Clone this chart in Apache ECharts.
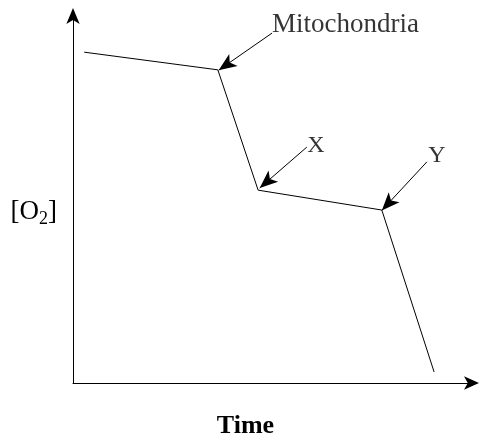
<!DOCTYPE html>
<html>
<head>
	<meta charset="utf-8">
	<title></title>
    <script src="https://cdn.jsdelivr.net/npm/echarts@6/dist/echarts.min.js"></script>
    <style>body{margin:0}</style>
</head>
<body>
    <div id="main" style="width: 481px;height:438px;"></div>
	<script type="text/javascript">
        // O2 trace (time, [O2]) in arbitrary units 0-100
        const traceTime = [2.8, 36.3, 46.4, 77.4, 90.5];
        const traceO2 = [89.9, 85.1, 52.4, 47.0, 3.0];

        // annotations: label text, label position, arrow start and arrow tip
        const notes = ['Mitochondria', 'X', 'Y'];
        const noteX = [49.9, 60.9, 91.2];
        const noteY = [97.2, 64.4, 61.7];
        const arrowFrom = [[49.9, 95.1], [58.6, 64.1], [88.7, 60.1]];
        const arrowTo = [[36.5, 85.0], [46.8, 53.0], [77.4, 46.9]];

        const serif = "'Liberation Serif', 'Times New Roman', serif";
        const myChart = echarts.init(document.getElementById('main'));

		const options = {
            animation: false,
            grid: { left: 73, right: 9, top: 15, bottom: 55, outerBoundsMode: 'none' },
            xAxis: {
                type: 'value', min: 0, max: 100,
                name: 'Time', nameLocation: 'middle', nameGap: 30,
                nameTextStyle: { fontFamily: serif, fontSize: 26, fontWeight: 'bold', color: '#000', padding: [0, 54, 0, 0] },
                axisLine: { symbol: ['none', 'arrow'], symbolSize: [10, 15], symbolOffset: [0, 7], lineStyle: { color: '#000', width: 1 } },
                axisTick: { show: false }, axisLabel: { show: false }, splitLine: { show: false }
            },
            yAxis: {
                type: 'value', min: 0, max: 100,
                name: '{a|[O}{s|2}{a|]}', nameLocation: 'middle', nameRotate: 0, nameGap: 16,
                nameTextStyle: {
                    padding: [28, 0, 0, 0],
                    rich: {
                        a: { fontFamily: serif, fontSize: 27, color: '#000', lineHeight: 30, verticalAlign: 'top' },
                        s: { fontFamily: serif, fontSize: 18, color: '#000', lineHeight: 20, verticalAlign: 'bottom', padding: [13, 0, 0, 0] }
                    }
                },
                axisLine: { symbol: ['none', 'arrow'], symbolSize: [10, 16], symbolOffset: [0, 7], lineStyle: { color: '#000', width: 1 } },
                axisTick: { show: false }, axisLabel: { show: false }, splitLine: { show: false }
            },
            series: [{
                type: 'line',
                data: traceTime.map((t, i) => [t, traceO2[i]]),
                symbol: 'none',
                lineStyle: { color: '#000', width: 1 },
                markLine: {
                    silent: true,
                    symbol: ['none', 'arrow'],
                    symbolSize: [11, 18],
                    label: { show: false },
                    lineStyle: { color: '#000', width: 1, type: 'solid' },
                    data: arrowFrom.map((p, i) => [{ coord: p }, { coord: arrowTo[i] }])
                }
            }, {
                type: 'scatter',
                symbolSize: 0,
                silent: true,
                data: notes.map((n, i) => ({
                    value: [noteX[i], noteY[i]],
                    label: { position: i === 0 ? 'right' : 'inside', distance: 0, fontSize: i === 0 ? 27 : 24 }
                })),
                label: {
                    show: true,
                    formatter: (p) => notes[p.dataIndex],
                    fontFamily: serif, fontSize: 24, color: '#000'
                }
            }]
        };
        myChart.setOption(options);
	</script>
</body>
</html>
